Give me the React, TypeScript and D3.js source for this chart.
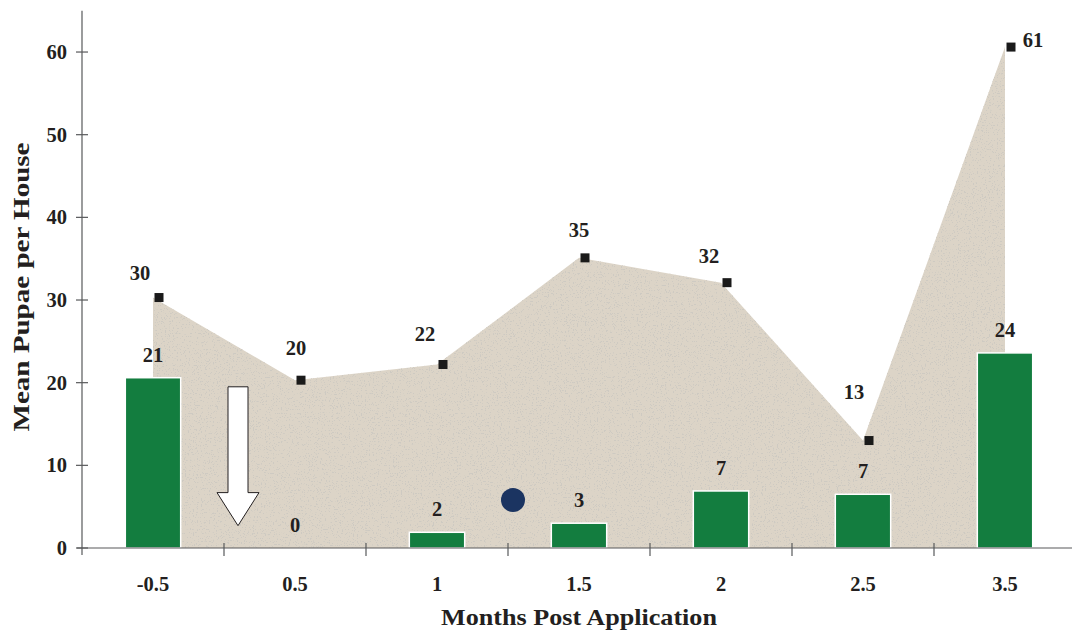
import React from "react";
import * as d3 from "d3";

// Months post application (category axis)
const months = ["-0.5", "0.5", "1", "1.5", "2", "2.5", "3.5"];
// Mean pupae per house, shaded area series with square markers
const pupaeArea = [30.3, 20.3, 22.2, 35.1, 32.1, 13.0, 60.6];
// Mean pupae per house, bar series
const pupaeBars = [20.6, 0, 1.9, 3.0, 6.9, 6.5, 23.6];
// Y axis ticks
const yTicks = [0, 10, 20, 30, 40, 50, 60];

// Label placement tweaks for the area series labels (dx, dy in px)
const areaLabelNudge: Record<string, [number, number]> = {
  "-0.5": [-13, -25],
  "0.5": [1, -32],
  "1": [-12, -30],
  "1.5": [0, -28],
  "2": [-12, -27],
  "2.5": [-9, -49],
  "3.5": [28, -7],
};

const W = 1072;
const H = 634;
const FONT = "'Liberation Serif', 'DejaVu Serif', serif";
const INK = "#231f20";
const AXIS = "#58595b";

export default function App() {
  const x = d3.scaleBand<string>().domain(months).range([82, 1076]).paddingInner(0).paddingOuter(0);
  const y = d3.scaleLinear().domain([0, 65]).range([548, 10.7]);
  const bw = x.bandwidth();
  const cx = (m: string) => (x(m) as number) + bw / 2;

  const area = d3
    .area<number>()
    .x((_, i) => cx(months[i]))
    .y0(y(0))
    .y1((d) => y(d))
    .curve(d3.curveLinear);

  const barW = bw * 0.39;

  // Annotation arrow between first and second category, in data units
  const ax = (x(months[1]) as number) + 14;
  const arrowTop = y(19.5);
  const shaftBottom = y(6.7);
  const tip = y(2.7);
  const arrowPath = [
    [ax - 10, arrowTop],
    [ax + 10, arrowTop],
    [ax + 10, shaftBottom],
    [ax + 21, shaftBottom],
    [ax, tip],
    [ax - 21, shaftBottom],
    [ax - 10, shaftBottom],
  ];

  const dotX = (x(months[3]) as number) + 5;
  const dotY = y(5.8);

  return (
    <svg width={W} height={H} style={{ position: "absolute", left: 0, top: 0 }} fontFamily={FONT}>
      <defs>
        <filter id="grain" x="0" y="0" width="100%" height="100%">
          <feTurbulence type="fractalNoise" baseFrequency="0.75" numOctaves="2" seed="7" result="noise" />
          <feColorMatrix
            in="noise"
            type="matrix"
            values="0 0 0 0 0.62  0 0 0 0 0.59  0 0 0 0 0.54  0 0 0 -16 6.1"
            result="speck"
          />
          <feComposite in="speck" in2="SourceGraphic" operator="in" result="speckIn" />
          <feMerge>
            <feMergeNode in="SourceGraphic" />
            <feMergeNode in="speckIn" />
          </feMerge>
        </filter>
      </defs>
      <rect width={W} height={H} fill="#ffffff" />

      {/* shaded area */}
      <path d={area(pupaeArea) as string} fill="#dcd4c7" filter="url(#grain)" />

      {/* bars */}
      {pupaeBars.map((v, i) =>
        v > 0 ? (
          <rect
            key={months[i]}
            x={cx(months[i]) - barW / 2}
            y={y(v)}
            width={barW}
            height={y(0) - y(v)}
            fill="#137d3f"
            stroke="#ffffff"
            strokeWidth={1.5}
          />
        ) : null
      )}

      {/* arrow annotation */}
      <path
        d={"M" + arrowPath.map((p) => p.join(",")).join("L") + "Z"}
        fill="#ffffff"
        stroke={INK}
        strokeWidth={1}
      />

      {/* marker dot */}
      <circle cx={dotX} cy={dotY} r={12} fill="#1b3461" />

      {/* axes */}
      <line x1={77} x2={W} y1={y(0)} y2={y(0)} stroke={AXIS} strokeWidth={1.2} />
      <line x1={82} x2={82} y1={y(65)} y2={555} stroke={AXIS} strokeWidth={1.2} />
      {yTicks.map((t) => (
        <g key={t}>
          <line x1={76} x2={88} y1={y(t)} y2={y(t)} stroke={AXIS} strokeWidth={1.2} />
          <text x={67} y={y(t) + 7} textAnchor="end" fontSize={20.5} fontWeight="bold" fill={INK}>
            {t}
          </text>
        </g>
      ))}
      {months.slice(1).map((m) => (
        <line key={m} x1={x(m) as number} x2={x(m) as number} y1={y(0) - 5} y2={y(0) + 8} stroke={AXIS} strokeWidth={1.2} />
      ))}
      {months.map((m) => (
        <text key={m} x={cx(m)} y={591} textAnchor="middle" fontSize={20.5} fontWeight="bold" fill={INK}>
          {m}
        </text>
      ))}

      {/* square markers */}
      {pupaeArea.map((v, i) => (
        <rect key={months[i]} x={cx(months[i]) + 6 - 4.5} y={y(v) - 4.5} width={9} height={9} fill="#1a1a1a" />
      ))}

      {/* area series labels */}
      {pupaeArea.map((v, i) => {
        const [dx, dy] = areaLabelNudge[months[i]];
        return (
          <text
            key={months[i]}
            x={cx(months[i]) + dx}
            y={y(v) + dy + 7}
            textAnchor="middle"
            fontSize={20.5}
            fontWeight="bold"
            fill={INK}
          >
            {Math.round(v)}
          </text>
        );
      })}

      {/* bar labels */}
      {pupaeBars.map((v, i) => (
        <text
          key={months[i]}
          x={cx(months[i])}
          y={y(v) - 16}
          textAnchor="middle"
          fontSize={20.5}
          fontWeight="bold"
          fill={INK}
        >
          {Math.round(v)}
        </text>
      ))}

      {/* axis titles */}
      <text
        x={579}
        y={625}
        textAnchor="middle"
        fontSize={23}
        fontWeight="bold"
        fill={INK}
        textLength={276}
        lengthAdjust="spacingAndGlyphs"
      >
        Months Post Application
      </text>
      <text
        transform={`translate(29, 287) rotate(-90)`}
        textAnchor="middle"
        fontSize={23}
        fontWeight="bold"
        fill={INK}
        textLength={289}
        lengthAdjust="spacingAndGlyphs"
      >
        Mean Pupae per House
      </text>
    </svg>
  );
}
